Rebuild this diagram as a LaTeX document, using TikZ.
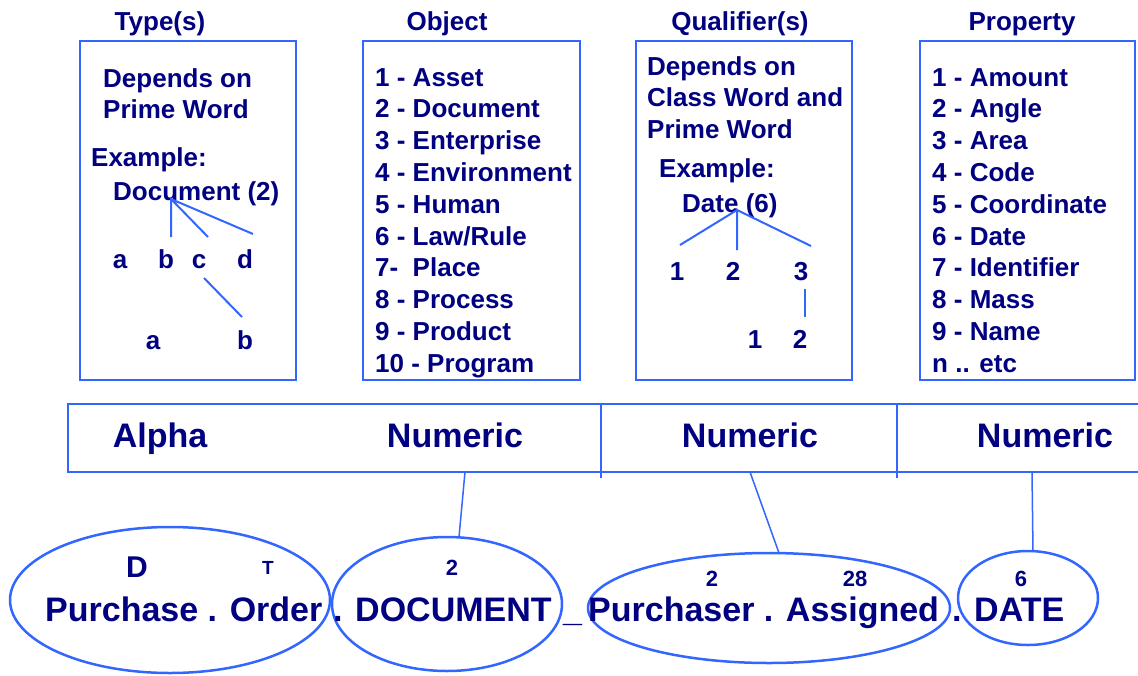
\documentclass[tikz,border=0pt]{standalone}
\usepackage{fontspec}
\setmainfont{Liberation Sans}
\definecolor{navy}{RGB}{0,0,128}
\definecolor{lblue}{RGB}{51,102,255}
\begin{document}
\begin{tikzpicture}[x=1pt,y=-1pt,
  txt/.style={inner sep=0pt,anchor=base west,text=navy,font=\fontsize{26}{31}\selectfont\bfseries},
  ctxt/.style={inner sep=0pt,anchor=base,text=navy,font=\fontsize{26}{31}\selectfont\bfseries},
  bigtxt/.style={inner sep=0pt,anchor=base west,text=navy,font=\fontsize{34}{40}\selectfont\bfseries},
  bigc/.style={inner sep=0pt,anchor=base,text=navy,font=\fontsize{34}{40}\selectfont\bfseries},
  numc/.style={inner sep=0pt,anchor=base,text=navy,font=\fontsize{22}{26}\selectfont\bfseries},
  panel/.style={draw=lblue,line width=2pt},
  tree/.style={draw=lblue,line width=2pt},
  link/.style={draw=lblue,line width=1.5pt},
  oval/.style={draw=lblue,line width=2.5pt}]
\useasboundingbox (0,0) rectangle (1138,675);
% headers
\node[ctxt] (h1) at (160,30) {Type(s)};
\node[ctxt] (h2) at (447,30) {Object};
\node[ctxt] (h3) at (740,30) {Qualifier(s)};
\node[ctxt] (h4) at (1022,30) {Property};
% panels
\draw[panel] (80,41) rectangle (296,380);
\draw[panel] (363,41) rectangle (580,380);
\draw[panel] (636,41) rectangle (852,380);
\draw[panel] (920,41) rectangle (1135,380);
% panel 1
\node[txt] (p1a) at (103,87) {Depends on};
\node[txt] (p1b) at (103,118) {Prime Word};
\node[txt] (p1c) at (91,166) {Example:};
\node[txt] (p1d) at (113,200) {Document (2)};
\coordinate (r1) at (171,199);
\coordinate (e1b) at (171,237);
\coordinate (e1c) at (208,237);
\coordinate (e1d) at (253,234);
\draw[tree] (e1b) -- (r1) -- (e1c) (r1) -- (e1d);
\node[ctxt] (la) at (120,268) {a};
\node[ctxt] (lb) at (166,268) {b};
\node[ctxt] (lc) at (199,268) {c};
\node[ctxt] (ld) at (245,268) {d};
\coordinate (c1) at (204,278);
\coordinate (c2) at (242,317);
\draw[tree] (c1) -- (c2);
\node[ctxt] (lca) at (153,349) {a};
\node[ctxt] (lcb) at (245,349) {b};
% panel 2
\foreach \t [count=\i] in {1 - Asset,2 - Document,3 - Enterprise,4 - Environment,5 - Human,6 - Law/Rule,7-\ \ Place,8 - Process,9 - Product,10 - Program}
  \node[txt] (o\i) at (375,{86+31.8*(\i-1)}) {\t};
% panel 3
\node[txt] (q1) at (647,75) {Depends on};
\node[txt] (q2) at (647,106) {Class Word and};
\node[txt] (q3) at (647,138) {Prime Word};
\node[txt] (q4) at (659,177) {Example:};
\node[txt] (q5) at (682,212) {Date (6)};
\coordinate (r3) at (737,210);
\coordinate (e31) at (680,245);
\coordinate (e32) at (737,250);
\coordinate (e33) at (811,246);
\draw[tree] (e31) -- (r3) -- (e33) (r3) -- (e32);
\node[ctxt] (n1) at (677,280) {1};
\node[ctxt] (n2) at (733,280) {2};
\node[ctxt] (n3) at (801,280) {3};
\coordinate (s1) at (805,289);
\coordinate (s2) at (805,317);
\draw[tree] (s1) -- (s2);
\node[ctxt] (n31) at (755,348) {1};
\node[ctxt] (n32) at (800,348) {2};
% panel 4
\foreach \t [count=\i] in {1 - Amount,2 - Angle,3 - Area,4 - Code,5 - Coordinate,6 - Date,7 - Identifier,8 - Mass,9 - Name,n .. etc}
  \node[txt] (pr\i) at (932,{86+31.8*(\i-1)}) {\t};
% band
\draw[panel] (1140,404) -- (68,404) -- (68,472) -- (1140,472);
\draw[draw=lblue,line width=1.2pt] (601,404) -- (601,478);
\draw[draw=lblue,line width=1.2pt] (897,404) -- (897,478);
\node[bigc] (b1) at (160,447) {Alpha};
\node[bigc] (b2) at (455,447) {Numeric};
\node[bigc] (b3) at (750,447) {Numeric};
\node[bigc] (b4) at (1045,447) {Numeric};
% ellipses
\draw[oval] (170,600) ellipse [x radius=160,y radius=73];
\draw[oval] (447,604) ellipse [x radius=115,y radius=67];
\draw[oval] (769,608) ellipse [x radius=181,y radius=55];
\draw[oval] (1028,598) ellipse [x radius=70,y radius=47];
\coordinate (t2) at (465,472);
\coordinate (t3) at (750,472);
\coordinate (t4) at (1032,472);
\coordinate (u2) at (459,537);
\coordinate (u3) at (779,553);
\coordinate (u4) at (1033,552);
\draw[link] (t2) -- (u2);
\draw[link] (t3) -- (u3);
\draw[link] (t4) -- (u4);
% ellipse labels
\node[inner sep=0pt,anchor=base,text=navy,font=\fontsize{30}{34}\selectfont\bfseries] (lD) at (137,577) {D};
\node[inner sep=0pt,anchor=base,text=navy,font=\fontsize{19}{22}\selectfont\bfseries] (lT) at (268,574) {T};
\node[numc] (l2a) at (452,575) {2};
\node[numc] (l2b) at (712,586) {2};
\node[numc] (l28) at (855,586) {28};
\node[numc] (l6) at (1021,586) {6};
\node[bigtxt] (w1) at (45,621) {Purchase . Order};
\node[bigtxt] (w2) at (333,621) {. DOCUMENT};
\node[bigtxt] (w3) at (563,621) {\_};
\node[bigtxt] (w4) at (588,621) {Purchaser . Assigned};
\node[bigtxt] (w5) at (952,621) {. DATE};
\end{tikzpicture}
\end{document}
